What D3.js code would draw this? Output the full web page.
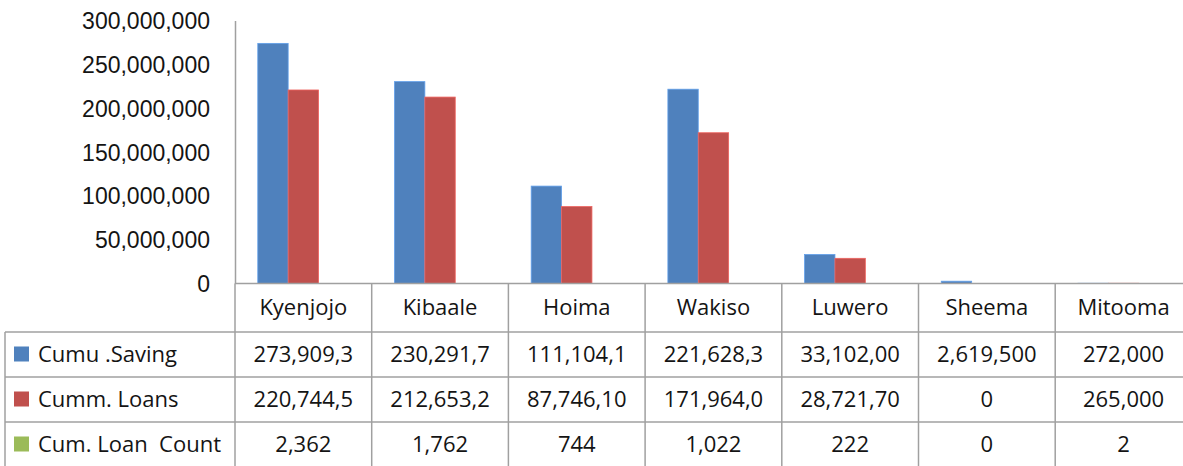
<!DOCTYPE html>
<html>
<head>
<meta charset="utf-8">
<script src="https://cdn.jsdelivr.net/npm/d3@7"></script>
<style>
  body { margin: 0; background: #fff; }
  svg { display: block; font-family: "Open Sans", sans-serif; }
</style>
</head>
<body>
<svg width="1183" height="466"></svg>
<script>
// Districts on the category axis
const districts = ["Kyenjojo", "Kibaale", "Hoima", "Wakiso", "Luwero", "Sheema", "Mitooma"];

// Series (the table cells are cut off like in the spreadsheet)
const seriesNames = ["Cumu .Saving", "Cumm. Loans", "Cum. Loan  Count"];
const savings = [273909300, 230291700, 111104100, 221628300, 33102000, 2619500, 272000];
const loans = [220744500, 212653200, 87746100, 171964000, 28721700, 0, 265000];
const loanCount = [2362, 1762, 744, 1022, 222, 0, 2];

const yTicks = [0, 50000000, 100000000, 150000000, 200000000, 250000000, 300000000];
const colors = ["#4F81BD", "#C0504D", "#9BBB59"];

const seriesValues = [savings, loans, loanCount];

const svg = d3.select("svg");

// plot area
const plotLeft = 235, plotTop = 20.5, baseY = 283.5;
const colW = 136.7;
const lineColor = "#a0a0a0";
const textColor = "#141414";

const x0 = d3.scaleBand()
    .domain(districts)
    .range([plotLeft, plotLeft + colW * districts.length])
    .paddingInner(0)
    .paddingOuter(0);

// gap width 150% like excel
const x1 = d3.scaleBand()
    .domain(seriesNames)
    .range([0, x0.bandwidth()])
    .paddingInner(0)
    .paddingOuter(0.75);

const y = d3.scaleLinear()
    .domain([0, 300000000])
    .range([baseY, plotTop]);

// bars
const groups = svg.append("g").selectAll("g")
    .data(districts)
    .enter().append("g")
    .attr("transform", d => `translate(${x0(d)},0)`);

groups.selectAll("rect")
    .data((d, i) => seriesNames.map((s, j) => ({ series: s, value: seriesValues[j][i], color: colors[j] })))
    .enter().append("rect")
    .attr("x", d => x1(d.series))
    .attr("y", d => y(d.value))
    .attr("width", x1.bandwidth())
    .attr("height", d => baseY - y(d.value))
    .attr("fill", d => d.color)
    .attr("stroke", d => d3.color(d.color).brighter(0.6))
    .attr("stroke-width", 0.8);

// y axis
const yAxis = svg.append("g")
    .attr("transform", `translate(${plotLeft},0)`)
    .call(d3.axisLeft(y).tickValues(yTicks).tickSize(0).tickPadding(25).tickFormat(d3.format(",")));
yAxis.select(".domain").attr("stroke", lineColor).attr("stroke-width", 1.5);
yAxis.selectAll("text")
    .attr("fill", textColor)
    .style("font-size", "23px")
    .attr("dy", "0.35em");

// data table
const headerBottom = 332;
const rowH = 45;
const tableLeft = 5;
const tableRight = plotLeft + colW * districts.length;
const tableBottom = headerBottom + rowH * seriesNames.length;

const table = svg.append("g")
    .attr("stroke", lineColor)
    .attr("stroke-width", 1.5);

// horizontal lines
table.append("line")
    .attr("x1", plotLeft).attr("x2", tableRight)
    .attr("y1", baseY).attr("y2", baseY);
seriesNames.forEach((s, i) => {
    table.append("line")
        .attr("x1", tableLeft).attr("x2", tableRight)
        .attr("y1", headerBottom + i * rowH).attr("y2", headerBottom + i * rowH);
});
table.append("line")
    .attr("x1", tableLeft).attr("x2", tableRight)
    .attr("y1", tableBottom).attr("y2", tableBottom);

// vertical lines
table.append("line")
    .attr("x1", tableLeft).attr("x2", tableLeft)
    .attr("y1", headerBottom).attr("y2", tableBottom);
districts.concat(["end"]).forEach((d, i) => {
    const xx = plotLeft + i * colW;
    table.append("line")
        .attr("x1", xx).attr("x2", xx)
        .attr("y1", baseY).attr("y2", tableBottom);
});

// category labels
svg.append("g").selectAll("text")
    .data(districts)
    .enter().append("text")
    .attr("x", d => x0(d) + x0.bandwidth() / 2)
    .attr("y", (baseY + headerBottom) / 2)
    .attr("dy", "0.35em")
    .attr("text-anchor", "middle")
    .attr("fill", textColor)
    .style("font-size", "22px")
    .text(d => d);

// legend keys + row names
const rows = svg.append("g").selectAll("g")
    .data(seriesNames)
    .enter().append("g")
    .attr("transform", (d, i) => `translate(0,${headerBottom + i * rowH + rowH / 2})`);

rows.append("rect")
    .attr("x", 14)
    .attr("y", -8)
    .attr("width", 15)
    .attr("height", 15)
    .attr("fill", (d, i) => colors[i]);

rows.append("text")
    .attr("x", 38)
    .attr("dy", "0.35em")
    .attr("fill", textColor)
    .style("font-size", "22px")
    .style("white-space", "pre")
    .text(d => d);

// cell values, cut to the cell width like excel does
const cellFmt = v => d3.format(",")(v).slice(0, 9);
rows.each(function(s, j) {
    d3.select(this).selectAll("text.cell")
        .data(districts)
        .enter().append("text")
        .attr("class", "cell")
        .attr("x", d => x0(d) + x0.bandwidth() / 2)
        .attr("dy", "0.35em")
        .attr("text-anchor", "middle")
        .attr("fill", textColor)
        .style("font-size", "22px")
        .text((d, i) => cellFmt(seriesValues[j][i]));
});
</script>
</body>
</html>
